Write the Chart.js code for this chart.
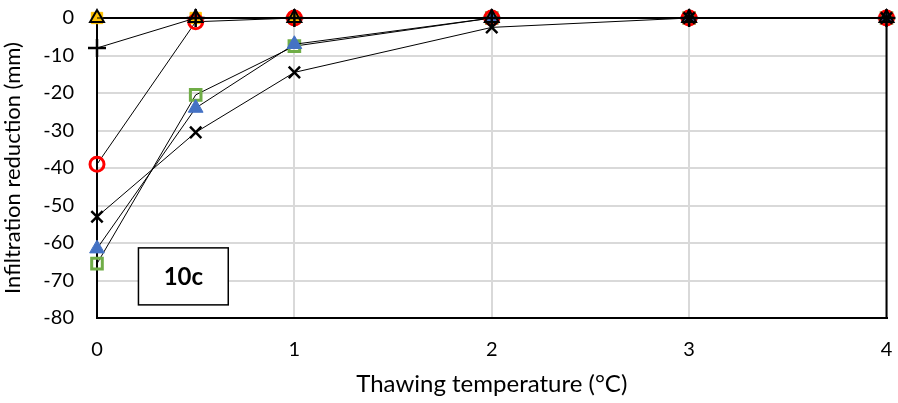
<!DOCTYPE html>
<html>
<head>
<meta charset="utf-8">
<script src="https://cdn.jsdelivr.net/npm/chart.js@4"></script>
<style>
  html, body { margin: 0; padding: 0; background: #fff; }
  #wrap { width: 898px; height: 403px; }
</style>
</head>
<body>
<div id="wrap"><canvas id="chart"></canvas></div>
<script>
// thawing temperatures (°C)
const temps = [0, 0.5, 1, 2, 3, 4];

// infiltration reduction (mm) per series
const plusSeries   = [-8, 0, 0, 0, 0, 0];
const triOpen      = [0, 0, 0, 0, 0, 0];
const xSeries      = [-53, -30.5, -14.5, -2.5, 0, 0];
const circleSeries = [-39, -1, 0, 0, 0, 0];
const triBlue      = [-61.5, -24, -7, 0, 0, 0];
const squareGreen  = [-65.5, -20.5, -7.5, 0, 0, 0];
const squareOrange = [0, 0, 0, 0, 0, 0];

const yTicks = [0, -10, -20, -30, -40, -50, -60, -70, -80];
const xTicks = [0, 1, 2, 3, 4];

const FONT = 'Lato, "Open Sans", sans-serif';

const pts = vals => temps.map((t, i) => ({ x: t, y: vals[i] }));

function series(vals, style) {
  return Object.assign({
    data: pts(vals),
    showLine: true,
    clip: false,
    borderColor: '#000',
    borderWidth: 1,
    pointBorderWidth: 2,
  }, style);
}

// plot frame + "10c" label box
const extras = {
  id: 'extras',
  beforeDatasetsDraw(chart) {
    const { ctx, chartArea: a } = chart;
    ctx.save();
    ctx.strokeStyle = '#000';
    ctx.lineWidth = 2;
    ctx.strokeRect(a.left, a.top, a.right - a.left, a.bottom - a.top);
    ctx.restore();
  },
  afterDatasetsDraw(chart) {
    const { ctx, scales } = chart;
    ctx.save();
    const x0 = scales.x.getPixelForValue(0.21), x1 = scales.x.getPixelForValue(0.665);
    const y0 = scales.y.getPixelForValue(-61.3), y1 = scales.y.getPixelForValue(-76.5);
    ctx.fillStyle = '#fff';
    ctx.fillRect(x0, y0, x1 - x0, y1 - y0);
    ctx.strokeStyle = '#000';
    ctx.lineWidth = 1.5;
    ctx.strokeRect(x0, y0, x1 - x0, y1 - y0);
    ctx.fillStyle = '#000';
    ctx.font = 'bold 24px ' + FONT;
    ctx.textAlign = 'center';
    ctx.textBaseline = 'middle';
    ctx.fillText('10c', (x0 + x1) / 2, (y0 + y1) / 2 + 1);
    ctx.restore();
  }
};

new Chart(document.getElementById('chart'), {
  type: 'scatter',
  data: {
    datasets: [
      series(plusSeries,   { pointStyle: 'cross', pointRadius: 9, pointBorderColor: '#000', pointBorderWidth: 2.5 }),
      series(triOpen,      { pointStyle: 'triangle', pointRadius: 8, pointBorderColor: '#000', pointBackgroundColor: 'rgba(0,0,0,0)', pointBorderWidth: 2 }),
      series(xSeries,      { pointStyle: 'crossRot', pointRadius: 8, pointBorderColor: '#000', pointBorderWidth: 2.5 }),
      series(circleSeries, { pointStyle: 'circle', pointRadius: 7, pointBorderColor: '#ff0000', pointBackgroundColor: 'rgba(0,0,0,0)', pointBorderWidth: 3 }),
      series(triBlue,      { pointStyle: 'triangle', pointRadius: 8.5, pointBorderColor: '#4472c4', pointBackgroundColor: '#4472c4', pointBorderWidth: 1 }),
      series(squareGreen,  { pointStyle: 'rect', pointRadius: 7.5, pointBorderColor: '#70ad47', pointBackgroundColor: 'rgba(0,0,0,0)', pointBorderWidth: 3 }),
      series(squareOrange, { pointStyle: 'rect', pointRadius: 8, pointBorderColor: '#ffc000', pointBackgroundColor: '#ffc000', pointBorderWidth: 1 }),
    ]
  },
  options: {
    responsive: true,
    maintainAspectRatio: false,
    animation: false,
    layout: { padding: { top: 18, right: 11, left: 0, bottom: 0 } },
    plugins: { legend: { display: false }, tooltip: { enabled: false } },
    scales: {
      x: {
        type: 'linear',
        min: 0, max: 4,
        afterBuildTicks: s => { s.ticks = xTicks.map(v => ({ value: v })); },
        afterFit: s => { s.height = 85; s.paddingLeft = 0; s.paddingRight = 0; },
        grid: { color: '#d9d9d9', lineWidth: 2, tickLength: 0, drawTicks: false },
        border: { color: '#000', width: 2 },
        ticks: { color: '#000', font: { family: FONT, size: 20 }, padding: 20 },
        title: { display: true, text: 'Thawing temperature (°C)', color: '#000', font: { family: FONT, size: 24 }, padding: { top: 10, bottom: 4 } }
      },
      y: {
        min: -80, max: 0,
        afterBuildTicks: s => { s.ticks = yTicks.map(v => ({ value: v })); },
        afterFit: s => { s.width = 97; s.paddingTop = 0; s.paddingBottom = 0; },
        grid: { color: '#d9d9d9', lineWidth: 2, tickLength: 0, drawTicks: false },
        border: { color: '#000', width: 2 },
        ticks: { color: '#000', font: { family: FONT, size: 20 }, padding: 23 },
        title: { display: true, text: 'Infiltration reduction (mm)', color: '#000', font: { family: FONT, size: 22 }, padding: { top: 0, bottom: 4 } }
      }
    }
  },
  plugins: [extras]
});
</script>
</body>
</html>
